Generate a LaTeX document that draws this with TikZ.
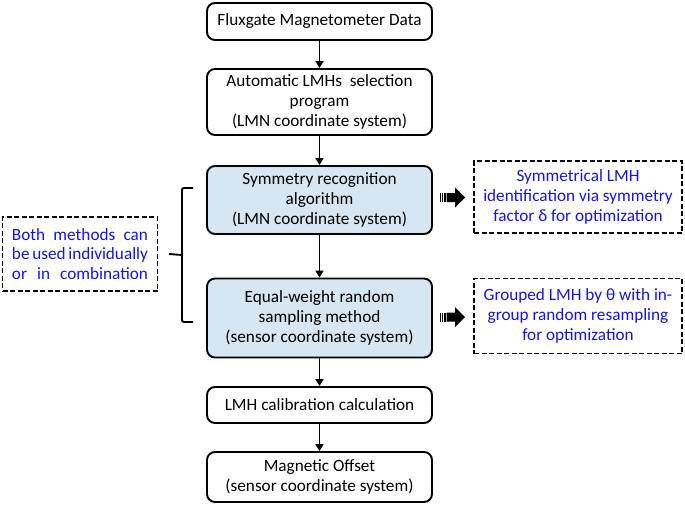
\documentclass[tikz,border=0pt]{standalone}
\usepackage{fontspec}
\setmainfont{Carlito}
\usetikzlibrary{arrows.meta}
\definecolor{boxblue}{RGB}{214,230,242}
\definecolor{txtblue}{RGB}{20,20,235}
\tikzset{
  flowbox/.style={draw=black, line width=1.9pt, rounded corners=8pt, minimum width=225pt, align=center, font=\fontsize{17.2}{19.8}\selectfont, inner sep=2pt},
  bluebox/.style={flowbox, fill=boxblue},
  notebox/.style={draw=black, line width=1.9pt, dash pattern=on 5pt off 2.5pt, minimum width=208pt, align=center, text=txtblue, font=\fontsize{17.2}{19.8}\selectfont, inner sep=2pt},
  flow/.style={line width=1.9pt, -{Triangle[width=8pt,length=7pt]}},
  bracestyle/.style={line width=1.9pt, rounded corners=2pt}
}
\newcommand{\blockarrow}[2]{%
  \begin{scope}[shift={(#1,#2)}]
    \fill[black] (0,-4.5) rectangle (1.2,4.5);
    \fill[black] (2.2,-4.5) rectangle (3.4,4.5);
    \fill[black] (4.4,-4.5) rectangle (5.6,4.5);
    \fill[black] (6.6,-4.5) -- (15,-4.5) -- (15,-10) -- (25,0) -- (15,10) -- (15,4.5) -- (6.6,4.5) -- cycle;
  \end{scope}}
\begin{document}
\begin{tikzpicture}[x=1pt,y=-1pt]
\useasboundingbox (0,0) rectangle (685,504);
\node[flowbox, minimum height=37pt] (b1) at (319.5,21.5) {Fluxgate Magnetometer Data};
\node[flowbox, minimum height=66pt] (b2) at (319.5,102) {Automatic LMHs\ \ selection\\program\\(LMN coordinate system)};
\node[bluebox, minimum height=68pt] (b3) at (319.5,200) {Symmetry recognition\\algorithm\\(LMN coordinate system)};
\node[bluebox, minimum height=79pt] (b4) at (319.5,318) {Equal-weight random\\sampling method\\(sensor coordinate system)};
\node[flowbox, minimum height=36pt] (b5) at (319.5,405) {LMH calibration calculation};
\node[flowbox, minimum height=50pt] (b6) at (319.5,477) {Magnetic Offset\\(sensor coordinate system)};
\node[notebox, minimum height=72pt] (rA) at (578,197) {Symmetrical LMH\\identification via symmetry\\factor δ for optimization};
\node[notebox, minimum height=75pt] (rB) at (578,316) {Grouped LMH by θ with in-\\group random resampling\\for optimization};
\node[notebox, minimum width=155pt, minimum height=74pt] (L) at (80,254) {\makebox[136pt][s]{Both methods can}\\\makebox[136pt][s]{be used individually}\\\makebox[136pt][s]{or in combination}};
\draw[flow] (b1) -- (b2);
\draw[flow] (b2) -- (b3);
\draw[flow] (b3) -- (b4);
\draw[flow] (b4) -- (b5);
\draw[flow] (b5) -- (b6);
\coordinate (bt) at (193,188);
\coordinate (bb) at (193,322);
\coordinate (bm) at (182,255);
\draw[bracestyle] (bt) -- (182,188) -- (bm) -- (182,322) -- (bb);
\draw[line width=1.9pt] (bm) -- (L.east -| 169,0);
\blockarrow{440}{197.5}
\blockarrow{440}{317}
\end{tikzpicture}
\end{document}
